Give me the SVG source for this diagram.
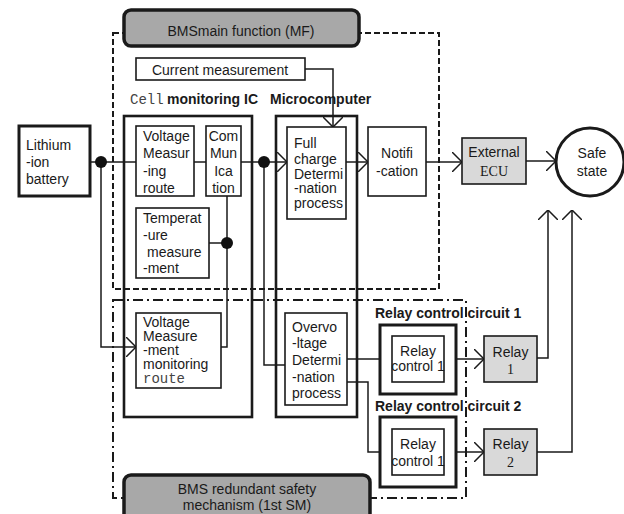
<svg xmlns="http://www.w3.org/2000/svg" width="624" height="514" viewBox="0 0 624 514">
  <style>
    text { font-family: "Liberation Sans", Arial, sans-serif; font-size: 14px; fill: #1a1a1a; }
    .mid { text-anchor: middle; }
    .bold { font-weight: bold; }
    .mono { font-family: "Liberation Mono", "Courier New", monospace; fill: #444; }
    .serif { font-family: "Liberation Serif", "Times New Roman", serif; }
    .box { fill: #fff; stroke: #1a1a1a; stroke-width: 1.6; }
    .thick { fill: none; stroke: #1a1a1a; stroke-width: 2.6; }
    .grey { fill: #d9d9d9; stroke: #1a1a1a; stroke-width: 1.6; }
    .banner { fill: #a8a8a8; stroke: #1a1a1a; stroke-width: 3.5; }
    .wire { fill: none; stroke: #1a1a1a; stroke-width: 1.5; }
    .arrow { fill: none; stroke: #1a1a1a; stroke-width: 1.5; marker-end: url(#chev); }
    .dot { fill: #111; }
  </style>
  <defs>
    <marker id="chev" viewBox="0 0 10 20" refX="10" refY="10" markerWidth="10" markerHeight="20" markerUnits="userSpaceOnUse" orient="auto">
      <path d="M0,0 L10,10 L0,20" fill="none" stroke="#1a1a1a" stroke-width="1.5"/>
    </marker>
  </defs>
  <rect width="624" height="514" fill="#fff"/>

  <!-- region boundaries -->
  <g id="regions">
    <rect id="mf-region" x="113" y="33" width="326" height="256" fill="none" stroke="#1a1a1a" stroke-width="2" stroke-dasharray="6,3"/>
    <rect id="sm-region" x="113" y="300" width="353" height="198" fill="none" stroke="#1a1a1a" stroke-width="2" stroke-dasharray="10,4,2,4"/>
  </g>

  <!-- block outlines -->
  <g id="cell-ic">
    <rect class="thick" x="124" y="116" width="128" height="301"/>
    <text x="130" y="104" class="mono" font-size="12">Cell</text>
    <text x="167" y="104" class="bold">monitoring IC</text>
  </g>
  <g id="microcomputer">
    <rect class="thick" x="276" y="116" width="81" height="301"/>
    <text x="270" y="104" class="bold">Microcomputer</text>
  </g>

  <!-- connectors -->
  <g id="connectors">
    <path class="wire" d="M90,162 H136"/>
    <path class="arrow" d="M101,162 V347 H136"/>
    <path class="wire" d="M194,162 H206"/>
    <path class="arrow" d="M241,162 H287"/>
    <path class="wire" d="M264,162 V365 H285"/>
    <path class="wire" d="M227,196 V347 H221"/>
    <path class="wire" d="M209,243 H227"/>
    <path class="arrow" d="M305,69 H333 V127"/>
    <path class="arrow" d="M346,162 H368"/>
    <path class="arrow" d="M426,162 H462"/>
    <path class="arrow" d="M526,161 H556"/>
    <path class="arrow" d="M347,359 H392"/>
    <path class="arrow" d="M444,359 H484"/>
    <path class="arrow" d="M347,382 H368 V452 H392"/>
    <path class="arrow" d="M444,452 H484"/>
    <path class="arrow" d="M537,358 H548 V210"/>
    <path class="arrow" d="M537,452 H572 V210"/>
    <circle class="dot" cx="101" cy="162" r="6"/>
    <circle class="dot" cx="264" cy="162" r="6"/>
    <circle class="dot" cx="227" cy="243" r="6"/>
  </g>

  <g id="mf-banner">
    <rect class="banner" x="124" y="10" width="235" height="36" rx="7"/>
    <text x="241" y="36" class="mid" font-size="15">BMSmain function (MF)</text>
  </g>

  <g id="sm-banner">
    <rect class="banner" x="124" y="475" width="246" height="50" rx="7"/>
    <text x="247" y="494" class="mid">BMS redundant safety</text>
    <text x="247" y="510" class="mid">mechanism (1st SM)</text>
  </g>

  <g id="current-measurement">
    <rect class="box" x="136" y="58" width="169" height="22"/>
    <text x="220" y="75" class="mid">Current measurement</text>
  </g>

  <g id="battery">
    <rect x="19" y="126" width="71" height="70" fill="#fff" stroke="#1a1a1a" stroke-width="3"/>
    <text x="26" y="150">Lithium</text>
    <text x="26" y="167">-ion</text>
    <text x="26" y="184">battery</text>
  </g>

  <g id="voltage-measuring">
    <rect class="box" x="136" y="126" width="58" height="70"/>
    <text x="143" y="141">Voltage</text>
    <text x="143" y="158">Measur</text>
    <text x="143" y="176">-ing</text>
    <text x="143" y="193">route</text>
  </g>

  <g id="communication">
    <rect class="box" x="206" y="126" width="35" height="70"/>
    <text x="223.5" y="141" class="mid">Com</text>
    <text x="223.5" y="158" class="mid">Mun</text>
    <text x="223.5" y="176" class="mid">Ica</text>
    <text x="223.5" y="193" class="mid">tion</text>
  </g>

  <g id="temperature">
    <rect class="box" x="136" y="208" width="73" height="70"/>
    <text x="143" y="223">Temperat</text>
    <text x="143" y="240">-ure</text>
    <text x="147" y="257">measure</text>
    <text x="143" y="273">-ment</text>
  </g>

  <g id="voltage-monitoring" font-size="13">
    <rect class="box" x="136" y="313" width="85" height="75"/>
    <text x="143" y="327" font-size="13">Voltage</text>
    <text x="143" y="341" font-size="13">Measure</text>
    <text x="143" y="355" font-size="13">-ment</text>
    <text x="143" y="369" font-size="13">monitoring</text>
    <text x="143" y="383" class="mono" font-size="12" fill="#666">route</text>
  </g>

  <g id="full-charge">
    <rect class="box" x="287" y="127" width="59" height="92"/>
    <text x="294" y="148">Full</text>
    <text x="294" y="164">charge</text>
    <text x="294" y="179">Determi</text>
    <text x="294" y="193">-nation</text>
    <text x="294" y="208">process</text>
  </g>

  <g id="overvoltage">
    <rect class="box" x="285" y="313" width="62" height="92"/>
    <text x="292" y="332">Overvo</text>
    <text x="292" y="348">-ltage</text>
    <text x="292" y="365">Determi</text>
    <text x="292" y="382">-nation</text>
    <text x="292" y="398">process</text>
  </g>

  <g id="notification">
    <rect class="box" x="368" y="127" width="58" height="69"/>
    <text x="397" y="158" class="mid">Notifi</text>
    <text x="397" y="176" class="mid">-cation</text>
  </g>

  <g id="external-ecu">
    <rect class="grey" x="462" y="138" width="64" height="46"/>
    <text x="494" y="157" class="mid" font-size="11">External</text>
    <text x="494" y="176" class="mid serif" font-size="16">ECU</text>
  </g>

  <g id="safe-state">
    <circle cx="590" cy="162" r="34" fill="#fff" stroke="#1a1a1a" stroke-width="3"/>
    <text x="592" y="158" class="mid">Safe</text>
    <text x="592" y="176" class="mid">state</text>
  </g>

  <g id="relay-control-1">
    <text x="375" y="318" class="bold">Relay control circuit 1</text>
    <rect x="380" y="325" width="76" height="69" fill="#fff" stroke="#1a1a1a" stroke-width="3"/>
    <rect class="box" x="392" y="336" width="52" height="46"/>
    <text x="418" y="356" class="mid" font-size="12">Relay</text>
    <text x="418" y="371" class="mid" font-size="12">control 1</text>
  </g>

  <g id="relay-control-2">
    <text x="375" y="411" class="bold">Relay control circuit 2</text>
    <rect x="380" y="417" width="76" height="70" fill="#fff" stroke="#1a1a1a" stroke-width="3"/>
    <rect class="box" x="392" y="429" width="52" height="46"/>
    <text x="418" y="449" class="mid">Relay</text>
    <text x="418" y="466" class="mid">control 1</text>
  </g>

  <g id="relay-1">
    <rect class="grey" x="484" y="336" width="53" height="46"/>
    <text x="510.5" y="357" class="mid">Relay</text>
    <text x="510.5" y="374" class="mid serif" font-size="15">1</text>
  </g>

  <g id="relay-2">
    <rect class="grey" x="484" y="429" width="53" height="46"/>
    <text x="510.5" y="449" class="mid">Relay</text>
    <text x="510.5" y="467" class="mid serif" font-size="15">2</text>
  </g>
</svg>
